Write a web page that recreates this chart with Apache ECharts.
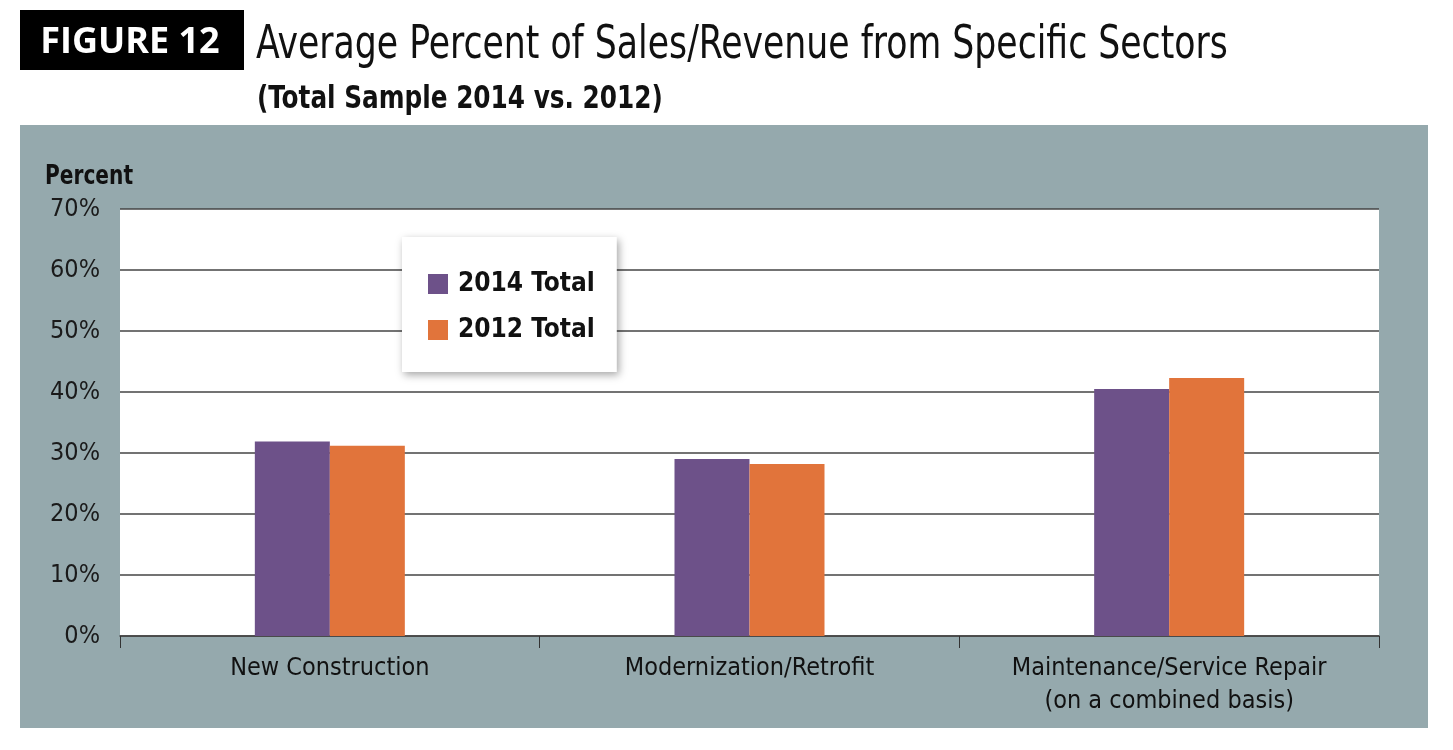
<!DOCTYPE html>
<html>
<head>
<meta charset="utf-8">
<title>Figure 12</title>
<script src="https://cdn.jsdelivr.net/npm/echarts@6/dist/echarts.min.js"></script>
<style>
  html, body { margin: 0; padding: 0; background: #fff; }
  #chart { width: 1453px; height: 750px; }
</style>
</head>
<body>
<div id="chart"></div>
<script>
'use strict';

// categories and values (percent)
const categories = ['New Construction', 'Modernization/Retrofit', 'Maintenance/Service Repair\n(on a combined basis)'];
const total2014 = [31.9, 29.0, 40.5];
const total2012 = [31.2, 28.2, 42.3];
const yTicks = [0, 10, 20, 30, 40, 50, 60, 70];

const FONT = "'Liberation Sans Narrow', 'DejaVu Sans Condensed', sans-serif";
const PURPLE = '#6d5189';
const ORANGE = '#e1743b';
const PANEL = '#95a9ad';

const chart = echarts.init(document.getElementById('chart'));

chart.setOption({
    backgroundColor: '#fff',
    animation: false,
    textStyle: { fontFamily: FONT },
    graphic: [
        // grey panel behind the plot
        { type: 'rect', z: -10, shape: { x: 20, y: 125, width: 1408, height: 603 }, style: { fill: PANEL } },
        // white plot area
        { type: 'rect', z: -5, shape: { x: 120, y: 209, width: 1259, height: 427 }, style: { fill: '#fff' } },
        // black "FIGURE 12" box
        { type: 'rect', shape: { x: 20, y: 10, width: 224, height: 60 }, style: { fill: '#000' } },
        {
            type: 'text', x: 130, y: 43,
            style: {
                text: 'FIGURE 12', fill: '#fff', align: 'center', verticalAlign: 'middle',
                font: "bold 36px 'Open Sans', sans-serif"
            }
        },
        // heading, squeezed to the condensed face of the original
        {
            type: 'text', x: 256, y: 46, scaleX: 0.82,
            style: { text: 'Average Percent of Sales/Revenue from Specific Sectors', fill: '#111', verticalAlign: 'middle', font: '47px ' + FONT }
        },
        {
            type: 'text', x: 257, y: 100, scaleX: 0.86,
            style: { text: '(Total Sample 2014 vs. 2012)', fill: '#111', verticalAlign: 'middle', font: 'bold 32px ' + FONT }
        },
        {
            type: 'text', x: 45, y: 177, scaleX: 0.83,
            style: { text: 'Percent', fill: '#111', verticalAlign: 'middle', font: 'bold 27px ' + FONT }
        }
    ],
    legend: {
        orient: 'vertical',
        left: 402, top: 237,
        padding: [34, 22, 29, 26],
        itemGap: 20,
        itemWidth: 20, itemHeight: 20,
        icon: 'rect',
        backgroundColor: '#fff',
        shadowColor: 'rgba(0,0,0,0.35)',
        shadowBlur: 8,
        shadowOffsetX: 2,
        shadowOffsetY: 3,
        textStyle: { fontFamily: FONT, fontSize: 26, fontWeight: 'bold', color: '#111', padding: [0, 0, 0, 5] },
        data: ['2014 Total', '2012 Total']
    },
    grid: { left: 120, right: 74, top: 209, bottom: 114 },
    xAxis: {
        type: 'category',
        data: categories,
        axisLine: { lineStyle: { color: '#444', width: 1.5 } },
        axisTick: { show: true, length: 12, lineStyle: { color: '#333', width: 1 } },
        axisLabel: { fontFamily: FONT, fontSize: 25, color: '#111', margin: 16, lineHeight: 33 }
    },
    yAxis: {
        type: 'value',
        min: yTicks[0],
        max: yTicks[yTicks.length - 1],
        interval: 10,
        axisLine: { show: false },
        axisTick: { show: false },
        splitLine: { lineStyle: { color: '#444', width: 1.5 } },
        axisLabel: {
            fontFamily: FONT, fontSize: 25, color: '#1a1a1a', margin: 20,
            formatter: v => v + '%'
        }
    },
    series: [{
        name: '2014 Total',
        type: 'bar',
        data: total2014,
        barWidth: 75,
        barGap: '0%',
        itemStyle: { color: PURPLE }
    }, {
        name: '2012 Total',
        type: 'bar',
        data: total2012,
        barWidth: 75,
        barGap: '0%',
        itemStyle: { color: ORANGE }
    }]
});
</script>
</body>
</html>
